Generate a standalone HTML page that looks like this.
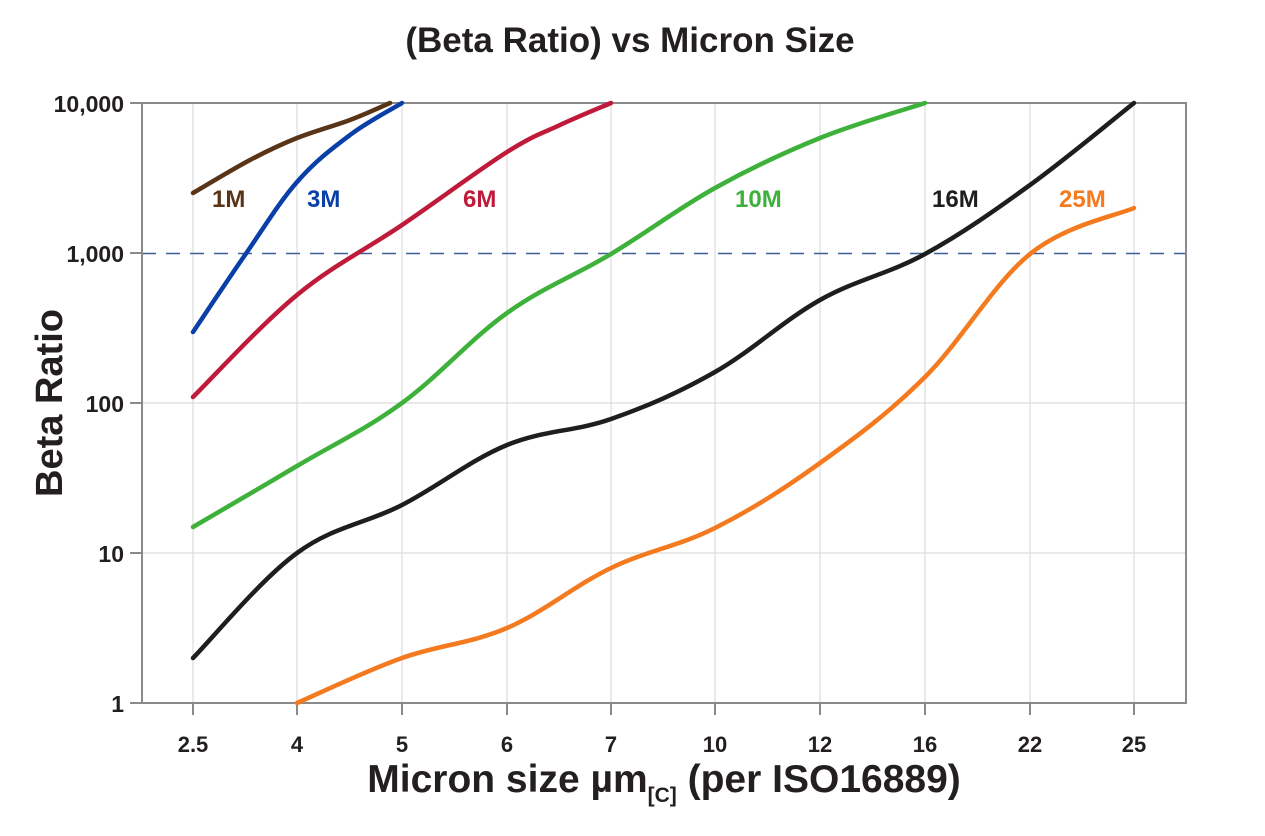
<!DOCTYPE html>
<html><head><meta charset="utf-8"><style>
html,body{margin:0;padding:0;background:#fff;}
svg{display:block;font-family:"Liberation Sans",Arial,sans-serif;font-weight:bold;}
</style></head><body>
<svg id="c" width="1265" height="836" viewBox="0 0 1265 836" xmlns="http://www.w3.org/2000/svg">
<text x="630" y="52" font-size="35" text-anchor="middle" fill="#231f20">(Beta Ratio) vs Micron Size</text>
<g stroke="#dcdcdc" stroke-width="1.2">
<line x1="193" y1="103" x2="193" y2="703"/><line x1="297" y1="103" x2="297" y2="703"/>
<line x1="402" y1="103" x2="402" y2="703"/><line x1="507" y1="103" x2="507" y2="703"/>
<line x1="611" y1="103" x2="611" y2="703"/><line x1="715" y1="103" x2="715" y2="703"/>
<line x1="820" y1="103" x2="820" y2="703"/><line x1="925" y1="103" x2="925" y2="703"/>
<line x1="1030" y1="103" x2="1030" y2="703"/><line x1="1134" y1="103" x2="1134" y2="703"/>
<line x1="142" y1="403" x2="1186" y2="403"/><line x1="142" y1="553" x2="1186" y2="553"/>
</g>
<line x1="142" y1="253.5" x2="1186" y2="253.5" stroke="#3f5f96" stroke-width="1.5" stroke-dasharray="14,10"/>
<g stroke="#8a8a8a" stroke-width="2" fill="none">
<polyline points="142,103 1186,103 1186,703 142,703 142,103"/>
<line x1="130" y1="103" x2="142" y2="103"/><line x1="130" y1="253" x2="142" y2="253"/>
<line x1="130" y1="403" x2="142" y2="403"/><line x1="130" y1="553" x2="142" y2="553"/>
<line x1="130" y1="703" x2="142" y2="703"/>
<line x1="193" y1="703" x2="193" y2="715"/><line x1="297" y1="703" x2="297" y2="715"/>
<line x1="402" y1="703" x2="402" y2="715"/><line x1="507" y1="703" x2="507" y2="715"/>
<line x1="611" y1="703" x2="611" y2="715"/><line x1="715" y1="703" x2="715" y2="715"/>
<line x1="820" y1="703" x2="820" y2="715"/><line x1="925" y1="703" x2="925" y2="715"/>
<line x1="1030" y1="703" x2="1030" y2="715"/><line x1="1134" y1="703" x2="1134" y2="715"/>
</g>
<g font-size="23" fill="#231f20" text-anchor="end">
<text x="124" y="112">10,000</text><text x="124" y="262">1,000</text>
<text x="124" y="412">100</text><text x="124" y="562">10</text><text x="124" y="712">1</text>
</g>
<g font-size="22" fill="#231f20" text-anchor="middle">
<text x="193" y="752">2.5</text><text x="297" y="752">4</text><text x="402" y="752">5</text>
<text x="507" y="752">6</text><text x="611" y="752">7</text><text x="715" y="752">10</text>
<text x="820" y="752">12</text><text x="925" y="752">16</text><text x="1030" y="752">22</text>
<text x="1134" y="752">25</text>
</g>
<text transform="translate(62,403) rotate(-90)" font-size="38" text-anchor="middle" fill="#231f20">Beta Ratio</text>
<text x="664" y="792" font-size="39" text-anchor="middle" fill="#231f20">Micron size µm<tspan font-size="21" dy="10">[C]</tspan><tspan dy="-10"> (per ISO16889)</tspan></text>
<g id="lines" fill="none" stroke-width="4.5" stroke-linejoin="round" stroke-linecap="round"></g>
<g font-size="24">
<text x="212" y="207" fill="#5a3417">1M</text>
<text x="307" y="207" fill="#0a3fa8">3M</text>
<text x="463" y="207" fill="#c01a3a">6M</text>
<text x="735" y="207" fill="#3db13a">10M</text>
<text x="932" y="207" fill="#1e1e1e">16M</text>
<text x="1059" y="207" fill="#f47a1f">25M</text>
</g>
</svg>
<script>
var S=[
["#5a3417",[[193,193],[250,160],[297,138],[350,120],[390,103]]],
["#0a3fa8",[[193,332],[245,255],[297,182],[350,135],[402,103]]],
["#c01a3a",[[193,397],[297,295],[402,225],[507,152],[560,125],[611,103]]],
["#3db13a",[[193,527],[297,466],[402,403],[507,313],[611,254],[715,188],[820,138],[925,103]]],
["#1e1e1e",[[193,658],[297,553],[402,505],[507,445],[611,419],[715,372],[820,300],[925,254],[1030,185],[1134,103]]],
["#f47a1f",[[297,703],[402,658],[507,628],[611,568],[715,528],[820,463],[925,377],[1030,254],[1134,208]]]];
var g=document.getElementById('lines'),t=0.35;
S.forEach(function(s){var p=s[1],d="M"+p[0][0]+","+p[0][1];
for(var i=0;i<p.length-1;i++){var a=p[i-1]||p[i],b=p[i],c=p[i+1],e=p[i+2]||c;
d+=" C"+(b[0]+(c[0]-a[0])*t/2)+","+(b[1]+(c[1]-a[1])*t/2)+" "+(c[0]-(e[0]-b[0])*t/2)+","+(c[1]-(e[1]-b[1])*t/2)+" "+c[0]+","+c[1];}
var el=document.createElementNS("http://www.w3.org/2000/svg","path");el.setAttribute("d",d);el.setAttribute("stroke",s[0]);g.appendChild(el);});
</script>
</body></html>
